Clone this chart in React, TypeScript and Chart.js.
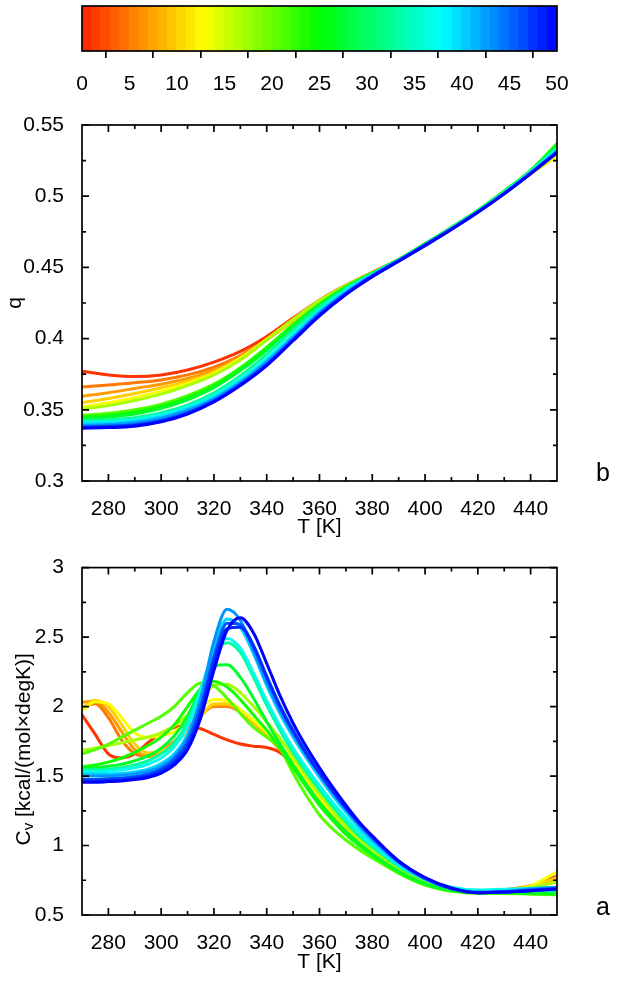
import React, { useEffect, useRef } from "react";
import { Chart, registerables } from "chart.js";

Chart.register(...registerables);

const FONT = "'Liberation Sans', Arial, Helvetica, sans-serif";
const TICK_SIZE = 21;
const TITLE_SIZE = 21;

// colour-map value of every curve (0 = red ... 50 = blue)
const COLOR_VALUES = [1, 5, 7, 10, 13, 17, 21, 24, 27, 33, 37, 40, 43, 46, 48, 50];
// hue anchors of the colour map [value, hue]
const HUE_STOPS = [
  [0, 8],
  [12.8, 60],
  [25, 120],
  [38, 180],
  [50, 240],
];

// colour bar
const COLORBAR_LEVELS = [
  0, 1, 2, 3, 4, 5, 6, 7, 8, 9, 10, 11, 12, 13, 14, 15, 16, 17, 18, 19, 20, 21, 22, 23, 24,
  25, 26, 27, 28, 29, 30, 31, 32, 33, 34, 35, 36, 37, 38, 39, 40, 41, 42, 43, 44, 45, 46, 47, 48, 49,
];
const COLORBAR_TICKS = [0, 5, 10, 15, 20, 25, 30, 35, 40, 45, 50];

// shared axis ticks
const T_MAJOR = [280, 300, 320, 340, 360, 380, 400, 420, 440];
const T_MINOR = [290, 310, 330, 350, 370, 390, 410, 430];
const Q_MAJOR = [0.3, 0.35, 0.4, 0.45, 0.5, 0.55];
const Q_MINOR = [0.325, 0.375, 0.425, 0.475, 0.525];
const CV_MAJOR = [0.5, 1, 1.5, 2, 2.5, 3];
const CV_MINOR = [0.75, 1.25, 1.75, 2.25, 2.75];

// panel b : q(T)
const T_Q = [270, 280, 290, 300, 310, 320, 330, 340, 350, 360, 370, 380, 390, 400, 410, 420, 430, 440, 450];
const Q_C0 = [0.377, 0.3745, 0.3733, 0.3745, 0.378, 0.3835, 0.391, 0.4015, 0.4145, 0.427, 0.4375, 0.4465, 0.4555, 0.4665, 0.4775, 0.4895, 0.5025, 0.5165, 0.531];
const Q_C1 = [0.366, 0.3675, 0.369, 0.371, 0.3745, 0.38, 0.388, 0.3995, 0.413, 0.426, 0.437, 0.4465, 0.4555, 0.4665, 0.4775, 0.4895, 0.5025, 0.5165, 0.53];
const Q_C2 = [0.3595, 0.362, 0.365, 0.368, 0.372, 0.378, 0.387, 0.399, 0.4125, 0.4255, 0.437, 0.4462, 0.4555, 0.4665, 0.4775, 0.4895, 0.5025, 0.517, 0.531];
const Q_C3 = [0.355, 0.358, 0.3615, 0.3655, 0.37, 0.3765, 0.3865, 0.3995, 0.413, 0.426, 0.437, 0.4462, 0.4555, 0.4665, 0.4775, 0.4895, 0.5025, 0.5165, 0.53];
const Q_C4 = [0.352, 0.355, 0.3585, 0.363, 0.3685, 0.3755, 0.386, 0.3995, 0.4135, 0.4265, 0.4372, 0.4462, 0.4553, 0.4663, 0.4773, 0.489, 0.502, 0.5155, 0.528];
const Q_C5 = [0.3505, 0.353, 0.3565, 0.361, 0.367, 0.3745, 0.385, 0.399, 0.4135, 0.4265, 0.4372, 0.4462, 0.4553, 0.4663, 0.4775, 0.4895, 0.5025, 0.517, 0.532];
const Q_C6 = [0.346, 0.3475, 0.35, 0.354, 0.36, 0.368, 0.3795, 0.394, 0.41, 0.4245, 0.4365, 0.446, 0.4555, 0.4665, 0.478, 0.49, 0.5035, 0.518, 0.536];
const Q_C7 = [0.345, 0.346, 0.3485, 0.3525, 0.3585, 0.367, 0.379, 0.3935, 0.4095, 0.424, 0.4362, 0.446, 0.4555, 0.4665, 0.478, 0.49, 0.5035, 0.518, 0.537];
const Q_C8 = [0.344, 0.345, 0.347, 0.351, 0.357, 0.3655, 0.3775, 0.392, 0.4085, 0.4235, 0.436, 0.4458, 0.4555, 0.4665, 0.478, 0.49, 0.5035, 0.518, 0.536];
const Q_C9 = [0.3425, 0.343, 0.3445, 0.348, 0.3535, 0.362, 0.374, 0.389, 0.406, 0.422, 0.435, 0.4455, 0.4552, 0.4662, 0.4775, 0.4895, 0.503, 0.5175, 0.534];
const Q_C10 = [0.341, 0.3415, 0.343, 0.3465, 0.352, 0.36, 0.3715, 0.386, 0.403, 0.42, 0.434, 0.445, 0.455, 0.466, 0.4775, 0.4895, 0.5025, 0.517, 0.533];
const Q_C11 = [0.34, 0.3405, 0.342, 0.345, 0.3505, 0.3585, 0.37, 0.3845, 0.4015, 0.419, 0.433, 0.4448, 0.455, 0.466, 0.4772, 0.489, 0.502, 0.5165, 0.532];
const Q_C12 = [0.339, 0.3395, 0.341, 0.344, 0.3495, 0.3575, 0.369, 0.3835, 0.4005, 0.418, 0.4322, 0.4445, 0.4548, 0.4658, 0.477, 0.489, 0.502, 0.5162, 0.5315];
const Q_C13 = [0.338, 0.3385, 0.3395, 0.3425, 0.348, 0.3565, 0.368, 0.382, 0.3995, 0.417, 0.4316, 0.444, 0.4546, 0.4656, 0.4769, 0.4889, 0.5019, 0.5161, 0.531];
const Q_C14 = [0.3375, 0.338, 0.339, 0.342, 0.3475, 0.356, 0.3675, 0.3815, 0.399, 0.4165, 0.4313, 0.4437, 0.4545, 0.4655, 0.4768, 0.4888, 0.5018, 0.516, 0.531];
const Q_C15 = [0.337, 0.3375, 0.3385, 0.3415, 0.347, 0.3555, 0.367, 0.381, 0.3985, 0.416, 0.431, 0.4435, 0.4543, 0.4653, 0.4767, 0.4887, 0.5017, 0.5158, 0.5305];
const Q_SERIES = [Q_C0, Q_C1, Q_C2, Q_C3, Q_C4, Q_C5, Q_C6, Q_C7, Q_C8, Q_C9, Q_C10, Q_C11, Q_C12, Q_C13, Q_C14, Q_C15];

// panel a : Cv(T)
const T_CV = [270, 275, 280, 285, 290, 295, 300, 305, 310, 315, 320, 325, 330, 335, 340, 345, 350, 355, 360, 365, 370, 375, 380, 390, 400, 410, 420, 430, 440, 450];
const CV_C0 = [1.94, 1.8, 1.66, 1.63, 1.66, 1.74, 1.81, 1.85, 1.86, 1.84, 1.8, 1.76, 1.73, 1.715, 1.705, 1.67, 1.58, 1.45, 1.32, 1.21, 1.11, 1.02, 0.95, 0.81, 0.72, 0.675, 0.665, 0.68, 0.71, 0.78];
const CV_C1 = [1.99, 2.02, 1.92, 1.76, 1.66, 1.64, 1.68, 1.75, 1.85, 1.94, 2.0, 2.0, 1.96, 1.89, 1.8, 1.7, 1.59, 1.46, 1.33, 1.22, 1.12, 1.03, 0.955, 0.815, 0.725, 0.68, 0.665, 0.675, 0.7, 0.76];
const CV_C2 = [2.03, 2.04, 1.96, 1.82, 1.69, 1.645, 1.665, 1.73, 1.83, 1.93, 2.01, 2.01, 1.96, 1.88, 1.79, 1.69, 1.58, 1.45, 1.33, 1.22, 1.12, 1.03, 0.955, 0.815, 0.725, 0.68, 0.665, 0.675, 0.695, 0.74];
const CV_C3 = [1.99, 2.045, 2.0, 1.87, 1.73, 1.665, 1.68, 1.73, 1.82, 1.93, 2.02, 2.02, 1.97, 1.89, 1.8, 1.7, 1.59, 1.46, 1.34, 1.23, 1.13, 1.04, 0.96, 0.82, 0.73, 0.68, 0.665, 0.675, 0.7, 0.77];
const CV_C4 = [1.97, 2.035, 2.02, 1.92, 1.81, 1.78, 1.79, 1.82, 1.9, 1.99, 2.05, 2.04, 1.98, 1.9, 1.82, 1.72, 1.61, 1.48, 1.35, 1.24, 1.14, 1.05, 0.97, 0.83, 0.735, 0.685, 0.67, 0.68, 0.71, 0.81];
const CV_C5 = [1.685, 1.7, 1.72, 1.74, 1.76, 1.78, 1.81, 1.86, 1.94, 2.06, 2.15, 2.16, 2.1, 2.0, 1.89, 1.77, 1.64, 1.5, 1.37, 1.25, 1.14, 1.05, 0.97, 0.83, 0.735, 0.685, 0.67, 0.68, 0.7, 0.74];
const CV_C6 = [1.66, 1.69, 1.73, 1.78, 1.83, 1.88, 1.93, 2.0, 2.1, 2.17, 2.15, 2.06, 1.95, 1.85, 1.78, 1.7, 1.52, 1.36, 1.22, 1.12, 1.04, 0.97, 0.91, 0.8, 0.715, 0.67, 0.655, 0.655, 0.65, 0.645];
const CV_C7 = [1.565, 1.58, 1.6, 1.63, 1.67, 1.72, 1.78, 1.87, 2.0, 2.13, 2.18, 2.14, 2.05, 1.94, 1.83, 1.7, 1.56, 1.42, 1.29, 1.18, 1.08, 1.0, 0.93, 0.81, 0.72, 0.675, 0.66, 0.66, 0.655, 0.65];
const CV_C8 = [1.555, 1.56, 1.57, 1.585, 1.61, 1.645, 1.7, 1.79, 1.93, 2.13, 2.29, 2.3, 2.21, 2.06, 1.89, 1.73, 1.58, 1.44, 1.31, 1.2, 1.1, 1.015, 0.94, 0.815, 0.725, 0.68, 0.665, 0.665, 0.66, 0.655];
const CV_C9 = [1.545, 1.545, 1.55, 1.56, 1.58, 1.61, 1.66, 1.74, 1.89, 2.13, 2.38, 2.46, 2.39, 2.21, 2.01, 1.83, 1.67, 1.53, 1.4, 1.28, 1.17, 1.07, 0.99, 0.85, 0.755, 0.695, 0.675, 0.68, 0.68, 0.67];
const CV_C10 = [1.53, 1.53, 1.535, 1.545, 1.56, 1.585, 1.63, 1.71, 1.86, 2.12, 2.4, 2.49, 2.42, 2.24, 2.04, 1.86, 1.7, 1.56, 1.43, 1.31, 1.2, 1.1, 1.01, 0.86, 0.76, 0.7, 0.68, 0.685, 0.69, 0.7];
const CV_C11 = [1.515, 1.515, 1.515, 1.52, 1.53, 1.55, 1.59, 1.66, 1.8, 2.06, 2.43, 2.63, 2.57, 2.38, 2.15, 1.95, 1.78, 1.63, 1.49, 1.36, 1.24, 1.13, 1.03, 0.87, 0.76, 0.69, 0.67, 0.675, 0.69, 0.7];
const CV_C12 = [1.5, 1.5, 1.5, 1.505, 1.515, 1.535, 1.57, 1.64, 1.78, 2.06, 2.47, 2.7, 2.62, 2.4, 2.17, 1.97, 1.8, 1.65, 1.51, 1.38, 1.26, 1.15, 1.05, 0.88, 0.76, 0.69, 0.665, 0.67, 0.685, 0.7];
const CV_C13 = [1.475, 1.475, 1.48, 1.485, 1.495, 1.515, 1.55, 1.62, 1.75, 2.0, 2.36, 2.6, 2.59, 2.44, 2.22, 2.01, 1.83, 1.67, 1.53, 1.39, 1.27, 1.16, 1.06, 0.885, 0.765, 0.69, 0.66, 0.665, 0.68, 0.69];
const CV_C14 = [1.465, 1.465, 1.47, 1.475, 1.485, 1.5, 1.535, 1.6, 1.72, 1.96, 2.32, 2.56, 2.57, 2.43, 2.21, 2.0, 1.82, 1.66, 1.52, 1.39, 1.27, 1.16, 1.06, 0.885, 0.765, 0.69, 0.66, 0.665, 0.675, 0.69];
const CV_C15 = [1.455, 1.455, 1.46, 1.465, 1.475, 1.49, 1.52, 1.58, 1.69, 1.92, 2.26, 2.55, 2.64, 2.53, 2.31, 2.08, 1.88, 1.71, 1.56, 1.42, 1.29, 1.17, 1.07, 0.89, 0.77, 0.695, 0.66, 0.665, 0.675, 0.685];
const CV_SERIES = [CV_C0, CV_C1, CV_C2, CV_C3, CV_C4, CV_C5, CV_C6, CV_C7, CV_C8, CV_C9, CV_C10, CV_C11, CV_C12, CV_C13, CV_C14, CV_C15];

function jet(v: number): string {
  let hue = HUE_STOPS[HUE_STOPS.length - 1][1];
  for (let i = 0; i < HUE_STOPS.length - 1; i++) {
    const [v0, h0] = HUE_STOPS[i];
    const [v1, h1] = HUE_STOPS[i + 1];
    if (v <= v1) {
      hue = h0 + ((v - v0) / (v1 - v0)) * (h1 - h0);
      break;
    }
  }
  return `hsl(${hue.toFixed(1)}, 100%, 50%)`;
}

function frameTicksPlugin(xMaj: number[], xMin: number[], yMaj: number[], yMin: number[], panel: string) {
  return {
    id: "frameTicks",
    afterDraw(chart: any) {
      const { ctx, chartArea } = chart;
      const { left, right, top, bottom } = chartArea;
      const xs = chart.scales.x;
      const ys = chart.scales.y;
      ctx.save();
      ctx.strokeStyle = "#000";
      ctx.lineWidth = 1.7;
      ctx.beginPath();
      const xt = (vals: number[], len: number) => {
        vals.forEach((v) => {
          const p = xs.getPixelForValue(v);
          ctx.moveTo(p, bottom);
          ctx.lineTo(p, bottom - len);
          ctx.moveTo(p, top);
          ctx.lineTo(p, top + len);
        });
      };
      const yt = (vals: number[], len: number) => {
        vals.forEach((v) => {
          const p = ys.getPixelForValue(v);
          ctx.moveTo(left, p);
          ctx.lineTo(left + len, p);
          ctx.moveTo(right, p);
          ctx.lineTo(right - len, p);
        });
      };
      xt(xMaj, 7);
      xt(xMin, 4);
      yt(yMaj, 7);
      yt(yMin, 4);
      ctx.stroke();
      ctx.strokeRect(left, top, right - left, bottom - top);
      ctx.fillStyle = "#000";
      ctx.font = `25px ${FONT}`;
      ctx.textAlign = "left";
      ctx.textBaseline = "alphabetic";
      ctx.fillText(panel, 596, bottom);
      ctx.restore();
    },
  };
}

const cvTitlePlugin = {
  id: "cvTitle",
  afterDraw(chart: any) {
    const { ctx, chartArea } = chart;
    const cy = (chartArea.top + chartArea.bottom) / 2 + 8;
    ctx.save();
    ctx.translate(24, cy);
    ctx.rotate(-Math.PI / 2);
    ctx.fillStyle = "#000";
    ctx.textBaseline = "middle";
    ctx.textAlign = "left";
    const big = `${TITLE_SIZE}px ${FONT}`;
    const small = `${Math.round(TITLE_SIZE * 0.7)}px ${FONT}`;
    const rest = " [kcal/(mol\u00d7degK)]";
    ctx.font = big;
    const wC = ctx.measureText("C").width;
    const wR = ctx.measureText(rest).width;
    ctx.font = small;
    const wv = ctx.measureText("v").width;
    const x0 = -(wC + wv + wR) / 2;
    ctx.font = big;
    ctx.fillText("C", x0, 0);
    ctx.font = small;
    ctx.fillText("v", x0 + wC, 5);
    ctx.font = big;
    ctx.fillText(rest, x0 + wC + wv, 0);
    ctx.restore();
  },
};

function lineConfig(p: {
  T: number[];
  series: number[][];
  yMin: number;
  yMax: number;
  yMaj: number[];
  yMinor: number[];
  padTop: number;
  xAxisHeight: number;
  titlePad: number;
  yTitle: string | null;
  panel: string;
}) {
  const datasets = p.series.map((vals, i) => ({
    label: `N=${COLOR_VALUES[i]}`,
    data: vals.map((v, j) => ({ x: p.T[j], y: v })),
    borderColor: jet(COLOR_VALUES[i]),
    backgroundColor: jet(COLOR_VALUES[i]),
    borderWidth: 3,
    pointRadius: 0,
    fill: false,
    cubicInterpolationMode: "monotone",
    order: p.series.length - 1 - i,
  }));
  const plugins: any[] = [frameTicksPlugin(T_MAJOR, T_MINOR, p.yMaj, p.yMinor, p.panel)];
  if (!p.yTitle) plugins.push(cvTitlePlugin);
  return {
    type: "line",
    data: { datasets },
    plugins,
    options: {
      animation: false,
      responsive: true,
      maintainAspectRatio: false,
      events: [],
      layout: { padding: { top: p.padTop, right: 60, left: 0, bottom: 0 } },
      plugins: { legend: { display: false }, tooltip: { enabled: false } },
      scales: {
        x: {
          type: "linear",
          min: 270,
          max: 450,
          afterBuildTicks: (s: any) => {
            s.ticks = T_MAJOR.map((value) => ({ value }));
          },
          afterFit: (s: any) => {
            s.height = p.xAxisHeight;
          },
          grid: { display: false },
          border: { display: false },
          ticks: {
            color: "#000",
            font: { family: FONT, size: TICK_SIZE },
            padding: 8,
            maxRotation: 0,
            autoSkip: false,
            callback: (v: any) => String(v),
          },
          title: {
            display: true,
            text: "T [K]",
            color: "#000",
            font: { family: FONT, size: TITLE_SIZE },
            padding: { top: 0, bottom: p.titlePad },
          },
        },
        y: {
          type: "linear",
          min: p.yMin,
          max: p.yMax,
          afterBuildTicks: (s: any) => {
            s.ticks = p.yMaj.map((value) => ({ value }));
          },
          afterFit: (s: any) => {
            s.width = 82;
          },
          grid: { display: false },
          border: { display: false },
          ticks: {
            color: "#000",
            font: { family: FONT, size: TICK_SIZE },
            padding: 10,
            autoSkip: false,
            callback: (v: any) => String(v),
          },
          title: {
            display: !!p.yTitle,
            text: p.yTitle || "",
            color: "#000",
            font: { family: FONT, size: TITLE_SIZE },
            padding: { top: 3, bottom: 0 },
          },
        },
      },
    },
  };
}

function colorbarConfig() {
  const colorbarFrame = {
    id: "cbFrame",
    afterDraw(chart: any) {
      const { ctx, chartArea } = chart;
      ctx.save();
      ctx.strokeStyle = "#000";
      ctx.lineWidth = 1.7;
      ctx.strokeRect(chartArea.left, chartArea.top, chartArea.right - chartArea.left, chartArea.bottom - chartArea.top);
      ctx.restore();
    },
  };
  return {
    type: "bar",
    data: {
      datasets: [
        {
          label: "colour scale",
          data: COLORBAR_LEVELS.map((v) => ({ x: v + 0.5, y: 1 })),
          backgroundColor: COLORBAR_LEVELS.map((v) => jet(v + 0.5)),
          borderWidth: 0,
          barPercentage: 1,
          categoryPercentage: 1,
          inflateAmount: 0.6,
        },
      ],
    },
    plugins: [colorbarFrame],
    options: {
      animation: false,
      responsive: true,
      maintainAspectRatio: false,
      events: [],
      layout: { padding: { top: 6, right: 60, left: 82, bottom: 0 } },
      plugins: { legend: { display: false }, tooltip: { enabled: false } },
      scales: {
        x: {
          type: "linear",
          min: 0,
          max: 50,
          offset: false,
          afterBuildTicks: (s: any) => {
            s.ticks = COLORBAR_TICKS.map((value) => ({ value }));
          },
          afterFit: (s: any) => {
            s.height = 49;
          },
          grid: {
            display: true,
            drawOnChartArea: false,
            drawTicks: true,
            tickLength: 7,
            color: "#000",
            lineWidth: 1.7,
          },
          border: { display: false },
          ticks: {
            color: "#000",
            font: { family: FONT, size: TICK_SIZE },
            padding: 14,
            maxRotation: 0,
            autoSkip: false,
            callback: (v: any) => String(v),
          },
        },
        y: { type: "linear", min: 0, max: 1, display: false },
      },
    },
  };
}

function ChartBox({ top, height, make }: { top: number; height: number; make: () => any }) {
  const ref = useRef<HTMLCanvasElement>(null);
  useEffect(() => {
    const chart = new Chart(ref.current as HTMLCanvasElement, make());
    return () => chart.destroy();
  }, []);
  return (
    <div style={{ position: "absolute", left: 0, top, width: 617, height }}>
      <canvas ref={ref} />
    </div>
  );
}

export default function App() {
  return (
    <div style={{ position: "absolute", left: 0, top: 0, width: 617, height: 982, background: "#fff", overflow: "hidden" }}>
      <ChartBox top={0} height={100} make={colorbarConfig} />
      <ChartBox
        top={90}
        height={455}
        make={() =>
          lineConfig({
            T: T_Q,
            series: Q_SERIES,
            yMin: 0.3,
            yMax: 0.55,
            yMaj: Q_MAJOR,
            yMinor: Q_MINOR,
            padTop: 35,
            xAxisHeight: 64,
            titlePad: 5,
            yTitle: "q",
            panel: "b",
          })
        }
      />
      <ChartBox
        top={545}
        height={437}
        make={() =>
          lineConfig({
            T: T_CV,
            series: CV_SERIES,
            yMin: 0.5,
            yMax: 3,
            yMaj: CV_MAJOR,
            yMinor: CV_MINOR,
            padTop: 15,
            xAxisHeight: 67,
            titlePad: 7,
            yTitle: null,
            panel: "a",
          })
        }
      />
    </div>
  );
}
